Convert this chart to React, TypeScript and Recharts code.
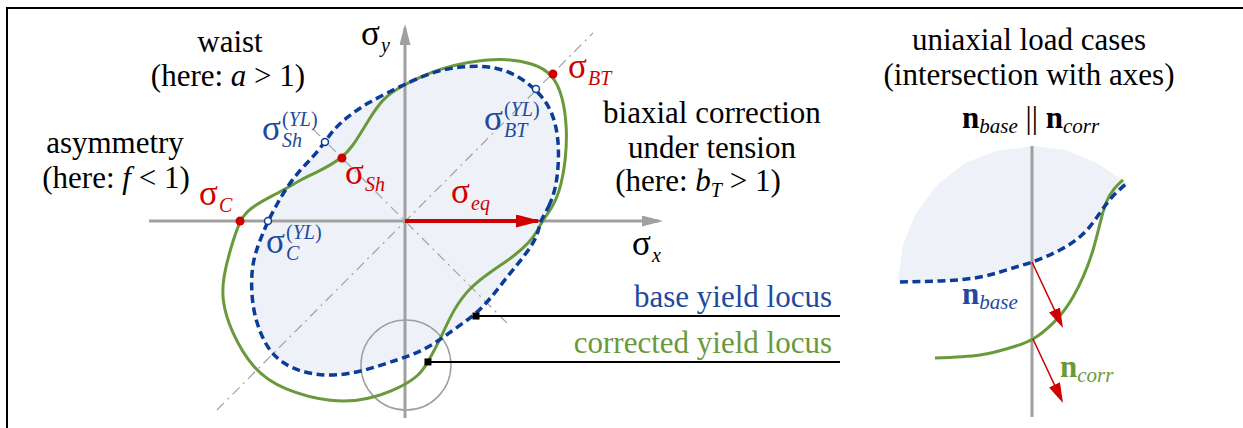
import { ComposedChart, Scatter, XAxis, YAxis } from 'recharts';

const W = 1243;
const H = 428;
const PX = 135; // pixels per stress unit (sigma_eq = 1)
const MAIN_O = { x: 405, y: 221 };
const INSET_O = { x: 1032, y: 280 };

const RED = '#d00000';
const BLUE = '#0b3c98';
const BLUE_TXT = '#1d4a9e';
const GREEN = '#69993a';
const GRAY = '#a0a0a0';
const FILL = '#eef2f8';

// main diagram, stress units
const BASE_LOCUS = [
  { x: 1.0, y: 0 }, { x: 1.067, y: 0.104 }, { x: 1.119, y: 0.244 }, { x: 1.141, y: 0.452 },
  { x: 1.133, y: 0.652 }, { x: 1.081, y: 0.837 }, { x: 0.97, y: 0.978 }, { x: 0.807, y: 1.096 },
  { x: 0.63, y: 1.148 }, { x: 0.444, y: 1.148 }, { x: 0.259, y: 1.119 }, { x: 0.096, y: 1.059 },
  { x: -0.059, y: 0.985 }, { x: -0.281, y: 0.874 }, { x: -0.43, y: 0.77 }, { x: -0.533, y: 0.674 },
  { x: -0.593, y: 0.585 }, { x: -0.681, y: 0.474 }, { x: -0.778, y: 0.378 }, { x: -0.874, y: 0.252 },
  { x: -0.948, y: 0.126 }, { x: -1.015, y: 0 }, { x: -1.074, y: -0.141 }, { x: -1.126, y: -0.289 },
  { x: -1.141, y: -0.459 }, { x: -1.126, y: -0.659 }, { x: -1.074, y: -0.83 }, { x: -1.0, y: -0.97 },
  { x: -0.904, y: -1.052 }, { x: -0.778, y: -1.119 }, { x: -0.533, y: -1.156 }, { x: -0.281, y: -1.104 },
  { x: -0.037, y: -1.022 }, { x: 0.111, y: -0.97 }, { x: 0.259, y: -0.881 }, { x: 0.356, y: -0.807 },
  { x: 0.519, y: -0.696 }, { x: 0.644, y: -0.563 }, { x: 0.778, y: -0.385 }, { x: 0.904, y: -0.237 },
  { x: 0.985, y: -0.104 },
];

const CORR_LOCUS = [
  { x: 1.015, y: 0 }, { x: 1.096, y: 0.104 }, { x: 1.156, y: 0.252 }, { x: 1.193, y: 0.474 },
  { x: 1.2, y: 0.696 }, { x: 1.17, y: 0.919 }, { x: 1.096, y: 1.089 }, { x: 0.948, y: 1.17 },
  { x: 0.726, y: 1.207 }, { x: 0.459, y: 1.178 }, { x: 0.259, y: 1.126 }, { x: 0.111, y: 1.067 },
  { x: -0.037, y: 0.993 }, { x: -0.17, y: 0.904 }, { x: -0.274, y: 0.741 }, { x: -0.385, y: 0.556 },
  { x: -0.467, y: 0.467 }, { x: -0.615, y: 0.378 }, { x: -0.778, y: 0.304 }, { x: -0.896, y: 0.23 },
  { x: -1.074, y: 0.141 }, { x: -1.178, y: 0.067 }, { x: -1.222, y: 0 }, { x: -1.281, y: -0.163 },
  { x: -1.348, y: -0.415 }, { x: -1.356, y: -0.585 }, { x: -1.296, y: -0.807 }, { x: -1.126, y: -1.104 },
  { x: -0.904, y: -1.252 }, { x: -0.533, y: -1.348 }, { x: -0.281, y: -1.326 }, { x: -0.037, y: -1.237 },
  { x: 0.111, y: -1.141 }, { x: 0.17, y: -1.044 }, { x: 0.259, y: -0.881 }, { x: 0.356, y: -0.659 },
  { x: 0.481, y: -0.489 }, { x: 0.652, y: -0.363 }, { x: 0.8, y: -0.267 }, { x: 0.926, y: -0.156 },
  { x: 0.985, y: -0.067 },
];

const CORR_POINTS = [{ x: -1.222, y: 0 }, { x: -0.467, y: 0.467 }, { x: 1.096, y: 1.089 }]; // sC, sSh, sBT
const BASE_POINTS = [{ x: -1.015, y: 0 }, { x: -0.593, y: 0.585 }, { x: 0.97, y: 0.978 }];

const AXIS_X = [{ x: -1.896, y: 0 }, { x: 1.881, y: 0 }];
const AXIS_Y = [{ x: 0, y: -1.459 }, { x: 0, y: 1.43 }];
const DIAG = [{ x: -1.393, y: -1.4 }, { x: 1.393, y: 1.393 }];
const ANTI_DIAG = [{ x: -0.681, y: 0.681 }, { x: 0.756, y: -0.756 }];
const SIGMA_EQ = [{ x: 0, y: 0 }, { x: 0.985, y: 0 }];
const DETAIL = [{ x: 0.007, y: -1.067 }];
const LEGEND_BASE = [{ x: 0.526, y: -0.704 }, { x: 3.222, y: -0.704 }];
const LEGEND_CORR = [{ x: 0.17, y: -1.044 }, { x: 3.222, y: -1.044 }];
const LEGEND_MARKS = [{ x: 0.526, y: -0.704 }, { x: 0.17, y: -1.044 }];

// inset (uniaxial detail), its own units
const INSET_AXIS = [{ x: 0, y: -1.015 }, { x: 0, y: 0.993 }];
const INSET_FILL = [
  { x: -0.993, y: -0.007 }, { x: -0.956, y: 0.259 }, { x: -0.859, y: 0.496 }, { x: -0.704, y: 0.704 },
  { x: -0.496, y: 0.867 }, { x: -0.267, y: 0.956 }, { x: 0, y: 0.993 }, { x: 0.252, y: 0.963 },
  { x: 0.481, y: 0.867 }, { x: 0.667, y: 0.741 }, { x: 0.704, y: 0.719 }, { x: 0.556, y: 0.57 },
  { x: 0.407, y: 0.37 }, { x: 0.207, y: 0.222 }, { x: 0, y: 0.133 }, { x: -0.141, y: 0.089 },
  { x: -0.385, y: 0.022 }, { x: -0.681, y: -0.007 }, { x: -0.978, y: -0.015 },
];
const INSET_BASE = [
  { x: -0.978, y: -0.015 }, { x: -0.681, y: -0.007 }, { x: -0.385, y: 0.022 }, { x: -0.141, y: 0.089 },
  { x: 0, y: 0.133 }, { x: 0.207, y: 0.222 }, { x: 0.407, y: 0.37 }, { x: 0.556, y: 0.57 }, { x: 0.704, y: 0.719 },
];
const INSET_CORR = [
  { x: -0.719, y: -0.578 }, { x: -0.385, y: -0.556 }, { x: -0.141, y: -0.496 }, { x: 0.007, y: -0.437 },
  { x: 0.156, y: -0.319 }, { x: 0.304, y: -0.126 }, { x: 0.452, y: 0.222 }, { x: 0.548, y: 0.57 }, { x: 0.674, y: 0.741 },
];
const N_BASE = [{ x: 0, y: 0.133 }, { x: 0.217, y: -0.329 }];
const N_CORR = [{ x: 0.007, y: -0.437 }, { x: 0.217, y: -0.884 }];

const mainX = [-MAIN_O.x / PX, (W - MAIN_O.x) / PX];
const mainY = [-(H - MAIN_O.y) / PX, MAIN_O.y / PX];
const insetX = [-INSET_O.x / PX, (W - INSET_O.x) / PX];
const insetY = [-(H - INSET_O.y) / PX, INSET_O.y / PX];

const noDot = () => <g />;

function path(key: string, ax: string, data: any[], line: any, joint = 'linear') {
  return (
    <Scatter key={key} xAxisId={ax} yAxisId={ax} data={data} line={line} lineJointType={joint as any}
      shape={noDot} isAnimationActive={false} />
  );
}

function dots(key: string, ax: string, data: any[], draw: (cx: number, cy: number) => any) {
  return (
    <Scatter key={key} xAxisId={ax} yAxisId={ax} data={data} shape={(p: any) => draw(p.cx, p.cy)}
      isAnimationActive={false} />
  );
}

function Sig({ x, y, color, sub, sup }: { x: number; y: number; color: string; sub: string; sup?: boolean }) {
  return (
    <g fill={color}>
      <text x={x} y={y} fontSize={35}>σ</text>
      {sup && <text x={x + 20} y={y - 14} fontSize={20}>(<tspan fontStyle="italic">YL</tspan>)</text>}
      <text x={x + 20} y={y + 7} fontSize={20} fontStyle="italic">{sub}</text>
    </g>
  );
}

export default function App() {
  const T = { fontSize: 31, textAnchor: 'middle' as const };
  return (
    <div style={{ position: 'absolute', left: 0, top: 0, width: W, height: H, background: '#fff', overflow: 'hidden' }}>
      <div style={{ position: 'absolute', left: 6, top: 7, width: W, height: H, borderTop: '2px solid #000', borderLeft: '2px solid #000' }} />
      <div style={{ position: 'absolute', left: 0, top: 0 }}>
        <ComposedChart width={W} height={H} margin={{ top: 0, right: 0, bottom: 0, left: 0 }}>
          <XAxis xAxisId="m" type="number" dataKey="x" domain={mainX} allowDataOverflow hide />
          <YAxis yAxisId="m" type="number" dataKey="y" domain={mainY} allowDataOverflow hide />
          <XAxis xAxisId="i" type="number" dataKey="x" domain={insetX} allowDataOverflow hide />
          <YAxis yAxisId="i" type="number" dataKey="y" domain={insetY} allowDataOverflow hide />

          {path('fill', 'm', BASE_LOCUS, { fill: FILL, stroke: 'none' }, 'basisClosed')}
          {path('ax', 'm', AXIS_X, { stroke: GRAY, strokeWidth: 3, markerEnd: 'url(#arrGray)' })}
          {path('ay', 'm', AXIS_Y, { stroke: GRAY, strokeWidth: 3, markerEnd: 'url(#arrGray)' })}
          {path('d1', 'm', DIAG, { stroke: GRAY, strokeWidth: 1.2, strokeDasharray: '10 5 2 5' })}
          {path('d2', 'm', ANTI_DIAG, { stroke: GRAY, strokeWidth: 1.2, strokeDasharray: '10 5 2 5' })}
          {dots('circ', 'm', DETAIL, (cx, cy) => <circle cx={cx} cy={cy} r={45} fill="none" stroke={GRAY} strokeWidth={1.5} />)}
          {path('lb', 'm', LEGEND_BASE, { stroke: '#000', strokeWidth: 2 })}
          {path('lc', 'm', LEGEND_CORR, { stroke: '#000', strokeWidth: 2 })}
          {path('eq', 'm', SIGMA_EQ, { stroke: RED, strokeWidth: 4, markerEnd: 'url(#arrRed)' })}
          {path('corr', 'm', CORR_LOCUS, { stroke: GREEN, strokeWidth: 3, fill: 'none' }, 'basisClosed')}
          {path('base', 'm', BASE_LOCUS, { stroke: BLUE, strokeWidth: 3.5, strokeDasharray: '8 4.5', fill: 'none' }, 'basisClosed')}
          {dots('lm', 'm', LEGEND_MARKS, (cx, cy) => <rect x={cx - 3.5} y={cy - 3.5} width={7} height={7} fill="#000" />)}
          {dots('cp', 'm', CORR_POINTS, (cx, cy) => <circle cx={cx} cy={cy} r={4.5} fill={RED} />)}
          {dots('bp', 'm', BASE_POINTS, (cx, cy) => <circle cx={cx} cy={cy} r={3.5} fill="#fff" stroke={BLUE} strokeWidth={1.5} />)}

          {path('ifill', 'i', INSET_FILL, { fill: FILL, stroke: 'none' }, 'linearClosed')}
          {path('iax', 'i', INSET_AXIS, { stroke: GRAY, strokeWidth: 3 })}
          {path('icorr', 'i', INSET_CORR, { stroke: GREEN, strokeWidth: 3, fill: 'none' }, 'natural')}
          {path('ibase', 'i', INSET_BASE, { stroke: BLUE, strokeWidth: 3.5, strokeDasharray: '8 4.5', fill: 'none' }, 'natural')}
          {path('nb', 'i', N_BASE, { stroke: RED, strokeWidth: 1.5, markerEnd: 'url(#arrRedS)' })}
          {path('nc', 'i', N_CORR, { stroke: RED, strokeWidth: 1.5, markerEnd: 'url(#arrRedS)' })}
        </ComposedChart>
      </div>
      <svg width={W} height={H} style={{ position: 'absolute', left: 0, top: 0, pointerEvents: 'none' }}
        fontFamily="'Liberation Serif', 'Times New Roman', serif">
        <defs>
          <marker id="arrGray" viewBox="0 0 21 11" refX={17} refY={5.5} markerWidth={21} markerHeight={11} markerUnits="userSpaceOnUse" orient="auto">
            <path d="M0,0 L21,5.5 L0,11 Z" fill={GRAY} />
          </marker>
          <marker id="arrRed" viewBox="0 0 25 13" refX={22} refY={6.5} markerWidth={25} markerHeight={13} markerUnits="userSpaceOnUse" orient="auto">
            <path d="M0,0 L25,6.5 L0,13 Z" fill={RED} />
          </marker>
          <marker id="arrRedS" viewBox="0 0 20 12" refX={16} refY={6} markerWidth={20} markerHeight={12} markerUnits="userSpaceOnUse" orient="auto">
            <path d="M0,0 L20,6 L0,12 Z" fill={RED} />
          </marker>
        </defs>

        <text x={230} y={52} {...T}>waist</text>
        <text x={228} y={86} {...T}>(here: <tspan fontStyle="italic">a</tspan> &gt; 1)</text>
        <text x={115} y={153} {...T}>asymmetry</text>
        <text x={116} y={188} {...T}>(here: <tspan fontStyle="italic">f</tspan> &lt; 1)</text>
        <text x={712} y={123} {...T}>biaxial correction</text>
        <text x={712} y={158} {...T}>under tension</text>
        <text x={698} y={191} {...T}>(here: <tspan fontStyle="italic">b</tspan><tspan fontStyle="italic" fontSize={20} dy={6}>T</tspan><tspan dy={-6}> &gt; 1)</tspan></text>
        <text x={1029} y={50} {...T}>uniaxial load cases</text>
        <text x={1029} y={85} {...T}>(intersection with axes)</text>
        <text x={962} y={128} fontSize={31}>
          <tspan fontWeight="bold">n</tspan><tspan fontStyle="italic" fontSize={21} dy={5}>base</tspan>
          <tspan dy={-5}> || </tspan>
          <tspan fontWeight="bold">n</tspan><tspan fontStyle="italic" fontSize={21} dy={5}>corr</tspan>
        </text>
        <text x={832} y={307} fontSize={31} textAnchor="end" fill={BLUE_TXT}>base yield locus</text>
        <text x={832} y={353} fontSize={31} textAnchor="end" fill={GREEN}>corrected yield locus</text>

        <Sig x={361} y={45} color="#000" sub="y" />
        <Sig x={632} y={255} color="#000" sub="x" />
        <Sig x={199} y={205} color={RED} sub="C" />
        <Sig x={345} y={184} color={RED} sub="Sh" />
        <Sig x={451} y={203} color={RED} sub="eq" />
        <Sig x={568} y={78} color={RED} sub="BT" />
        <Sig x={262} y={140} color={BLUE_TXT} sub="Sh" sup />
        <Sig x={484} y={130} color={BLUE_TXT} sub="BT" sup />
        <Sig x={266} y={253} color={BLUE_TXT} sub="C" sup />

        <text x={962} y={304} fontSize={31} fill={BLUE_TXT}>
          <tspan fontWeight="bold">n</tspan><tspan fontStyle="italic" fontSize={21} dy={5}>base</tspan>
        </text>
        <text x={1060} y={377} fontSize={31} fill={GREEN}>
          <tspan fontWeight="bold">n</tspan><tspan fontStyle="italic" fontSize={21} dy={5}>corr</tspan>
        </text>
      </svg>
    </div>
  );
}
